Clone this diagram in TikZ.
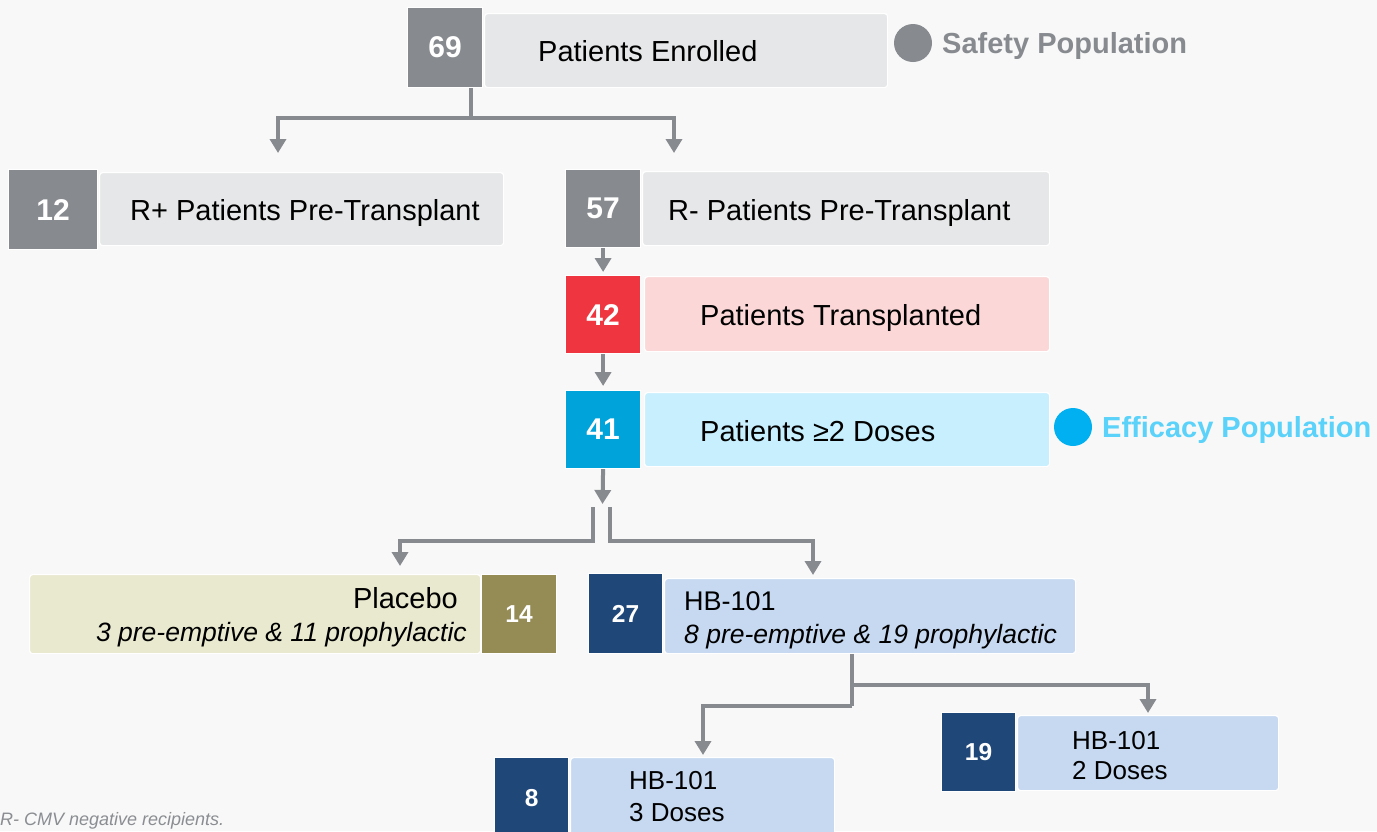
\documentclass[tikz,border=0pt]{standalone}
\usepackage{fontspec}
\setmainfont{Liberation Sans}
\usetikzlibrary{arrows.meta,calc}
\definecolor{bgc}{HTML}{F8F8F8}
\definecolor{gnum}{HTML}{878A8F}
\definecolor{glight}{HTML}{E6E7E8}
\definecolor{rnum}{HTML}{EF3640}
\definecolor{rlight}{HTML}{FBD7D8}
\definecolor{bnum}{HTML}{00A3DA}
\definecolor{blight}{HTML}{C7EFFD}
\definecolor{effc}{HTML}{00B0F0}
\definecolor{efft}{HTML}{5AD2FA}
\definecolor{klight}{HTML}{E9E9CF}
\definecolor{knum}{HTML}{958B55}
\definecolor{nnum}{HTML}{1F4778}
\definecolor{nlight}{HTML}{C6D9F1}
\definecolor{linec}{HTML}{878A8F}
\definecolor{footc}{HTML}{8A8D91}
\newcommand\fBig{\fontsize{29}{33}\selectfont}
\newcommand\fMid{\fontsize{27}{31}\selectfont}
\newcommand\fIt{\fontsize{26.5}{30}\selectfont\itshape}
\newcommand\fSm{\fontsize{26}{30}\selectfont}
\newcommand\fNumA{\fontsize{30}{30}\selectfont\bfseries}
\newcommand\fNumB{\fontsize{24.5}{24.5}\selectfont\bfseries}
\begin{document}
\begin{tikzpicture}[x=1pt,y=-1pt,
  numbox/.style={draw=white, line width=1.2pt, anchor=north west, inner sep=0pt, text=white, font=\fNumA},
  lbox/.style={draw=white, line width=1.2pt, anchor=north west, inner sep=0pt, rounded corners=3pt},
  txt/.style={anchor=base west, inner sep=0pt, font=\fBig},
  conn/.style={draw=linec, line width=4pt},
  arr/.style={conn, -{Triangle[width=16pt,length=14pt]}}
]
\useasboundingbox (0,0) rectangle (1377,831);
\fill[bgc] (0,0) rectangle (1377,831);

% row 1
\node[lbox, fill=glight, minimum width=403pt, minimum height=74pt] (l69) at (484,13) {};
\node[numbox, fill=gnum, minimum width=75pt, minimum height=80pt] (n69) at (407,7) {69};
\node[txt] (t69) at (538,61) {Patients Enrolled};
\fill[gnum] (913,43) circle (19pt);
\node[txt, font=\fBig\bfseries, text=gnum] (safety) at (942,53) {Safety Population};

% row 2
\node[lbox, fill=glight, minimum width=404pt, minimum height=73pt] (l12) at (99,172) {};
\node[numbox, fill=gnum, minimum width=89pt, minimum height=80pt] (n12) at (8,169) {12};
\node[txt] (t12) at (130,220) {R+ Patients Pre-Transplant};

\node[lbox, fill=glight, minimum width=407pt, minimum height=74pt] (l57) at (642,171) {};
\node[numbox, fill=gnum, minimum width=75pt, minimum height=78pt] (n57) at (565,169) {57};
\node[txt] (t57) at (668,220) {R- Patients Pre-Transplant};

% row 3
\node[lbox, fill=rlight, minimum width=405pt, minimum height=75pt] (l42) at (644,276) {};
\node[numbox, fill=rnum, minimum width=75pt, minimum height=78pt] (n42) at (565,275) {42};
\node[txt] (t42) at (700,325) {Patients Transplanted};

% row 4
\node[lbox, fill=blight, minimum width=405pt, minimum height=74pt] (l41) at (644,392) {};
\node[numbox, fill=bnum, minimum width=75pt, minimum height=78pt] (n41) at (565,390) {41};
\node[txt] (t41) at (700,441) {Patients ≥2 Doses};
\fill[effc] (1073,427) circle (19pt);
\node[txt, font=\fBig\bfseries, text=efft] (eff) at (1102,437) {Efficacy Population};

% row 5
\node[lbox, fill=klight, minimum width=451pt, minimum height=79pt] (lpl) at (29,574) {};
\node[numbox, fill=knum, font=\fNumB, minimum width=75pt, minimum height=79pt] (n14) at (481,574) {14};
\node[anchor=base east, inner sep=0pt, font=\fBig] (tpl1) at (458,608) {Placebo};
\node[anchor=base east, inner sep=0pt, font=\fIt] (tpl2) at (467,641) {3 pre-emptive \& 11 prophylactic};

\node[lbox, fill=nlight, minimum width=411pt, minimum height=75pt] (l27) at (664,578) {};
\node[numbox, fill=nnum, font=\fNumB, minimum width=74pt, minimum height=80pt] (n27) at (588,573) {27};
\node[txt, font=\fMid] (t27a) at (684,610) {HB-101};
\node[txt, font=\fIt] (t27b) at (684,643) {8 pre-emptive \& 19 prophylactic};

% row 6
\node[lbox, fill=nlight, minimum width=261pt, minimum height=75pt] (l19) at (1017,715) {};
\node[numbox, fill=nnum, font=\fNumB, minimum width=74pt, minimum height=79pt] (n19) at (941,712) {19};
\node[txt, font=\fSm] (t19a) at (1072,749) {HB-101};
\node[txt, font=\fSm] (t19b) at (1072,779) {2 Doses};

\node[lbox, fill=nlight, minimum width=264pt, minimum height=80pt] (l8) at (570,757) {};
\node[numbox, fill=nnum, font=\fNumB, minimum width=74pt, minimum height=80pt] (n8) at (494,757) {8};
\node[txt, font=\fSm] (t8a) at (629,789) {HB-101};
\node[txt, font=\fSm] (t8b) at (629,821) {3 Doses};

% footnote
\node[anchor=base west, inner sep=0pt, font=\fontsize{18}{20}\selectfont\itshape, text=footc] (foot) at (0,825) {R- CMV negative recipients.};

% connectors
\coordinate (j1) at (471,118);
\coordinate (a12) at (278,153);
\coordinate (a57) at (674,153);
\draw[conn] (n69.south -| j1) -- (j1);
\draw[arr] (j1) -| (a12);
\draw[arr] (j1) -| (a57);

\draw[arr, shorten >=3pt] (n57.south) -- (n42.north);
\draw[arr, shorten >=4pt] (n42.south) -- (n41.north);

\coordinate (s41) at (602.5,504);
\draw[arr] (n41.south) -- (s41);

\coordinate (bl0) at (593,507);
\coordinate (bl1) at (593,541);
\coordinate (apl) at (400,566);
\draw[arr] (bl0) -- (bl1) -| (apl);

\coordinate (br0) at (610,507);
\coordinate (br1) at (610,541);
\coordinate (a27) at (813,575);
\draw[arr] (br0) -- (br1) -| (a27);

\coordinate (g1) at (852,685);
\coordinate (g2) at (852,706);
\coordinate (a19) at (1148,713);
\coordinate (a8) at (703,755);
\draw[conn] (l27.south -| g1) -- (g2);
\draw[arr] (g1) -| (a19);
\draw[arr] (g2) -| (a8);
\end{tikzpicture}
\end{document}
